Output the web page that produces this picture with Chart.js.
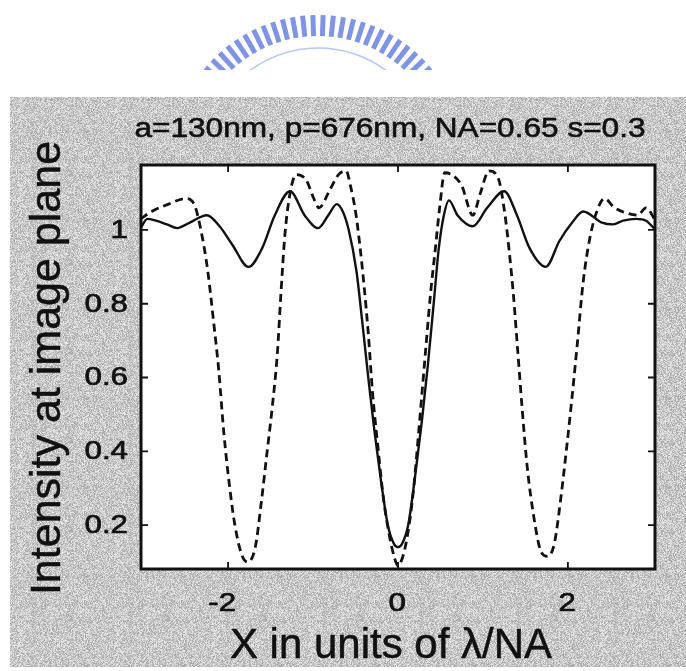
<!DOCTYPE html>
<html>
<head>
<meta charset="utf-8">
<script src="https://cdn.jsdelivr.net/npm/chart.js@4.4.1/dist/chart.umd.min.js"></script>
<style>
  html, body { margin: 0; padding: 0; background: #fff; }
</style>
</head>
<body>
<canvas id="chart" width="686" height="671"></canvas>
<script>
// Text of the figure
const TITLE = 'a=130nm, p=676nm, NA=0.65 s=0.3';
const X_LABEL = 'X in units of \u03bb/NA';
const Y_LABEL = 'Intensity at image plane';

// Tick labels
const X_TICKS = [-2, 0, 2];
const Y_TICKS = [0.2, 0.4, 0.6, 0.8, 1];

// Solid curve
const solidX = [-3.03, -2.95, -2.85, -2.72, -2.6, -2.45, -2.25, -2.1, -1.95, -1.76,
    -1.6, -1.45, -1.27, -1.1, -0.94, -0.82, -0.72, -0.65, -0.58, -0.49,
    -0.42, -0.35, -0.28, -0.2, -0.12, -0.05, 0, 0.05, 0.12, 0.2,
    0.28, 0.35, 0.42, 0.48, 0.54, 0.6, 0.7, 0.88, 1.05, 1.25,
    1.4, 1.55, 1.74, 1.9, 2.05, 2.18, 2.4, 2.53, 2.65, 2.8, 2.92, 3.03];
const solidY = [1.005, 1.03, 1.025, 1.015, 1.005, 1.02, 1.04, 1.01, 0.96, 0.90,
    0.95, 1.04, 1.105, 1.04, 1.005, 1.04, 1.07, 1.05, 1.0, 0.89,
    0.75, 0.60, 0.46, 0.32, 0.2, 0.15, 0.14, 0.15, 0.2, 0.33,
    0.48, 0.63, 0.80, 0.95, 1.04, 1.08, 1.04, 1.01, 1.06, 1.105,
    1.04, 0.95, 0.90, 0.97, 1.02, 1.05, 1.02, 1.015, 1.025, 1.03, 1.025, 1.0];

// Dashed curve
const dashedX = [-3.03, -2.9, -2.7, -2.5, -2.4, -2.32, -2.24, -2.17, -2.11, -2.05,
    -1.98, -1.92, -1.84, -1.77, -1.68, -1.61, -1.54, -1.48, -1.42, -1.38,
    -1.33, -1.27, -1.2, -1.08, -1.0, -0.93, -0.8, -0.7, -0.61, -0.56,
    -0.5, -0.45, -0.4, -0.35, -0.3, -0.24, -0.17, -0.1, -0.04, 0,
    0.05, 0.11, 0.18, 0.25, 0.32, 0.38, 0.44, 0.49, 0.55, 0.63,
    0.75, 0.88, 0.97, 1.07, 1.18, 1.26, 1.31, 1.36, 1.41, 1.46,
    1.52, 1.6, 1.68, 1.76, 1.84, 1.92, 1.99, 2.05, 2.11, 2.18,
    2.26, 2.34, 2.43, 2.55, 2.7, 2.82, 2.92, 3.03];
const dashedY = [1.03, 1.05, 1.07, 1.085, 1.07, 1.0, 0.89, 0.75, 0.62, 0.45,
    0.3, 0.2, 0.12, 0.10, 0.14, 0.26, 0.40, 0.52, 0.665, 0.82,
    0.99, 1.10, 1.15, 1.135, 1.09, 1.06, 1.11, 1.15, 1.16, 1.12,
    1.05, 0.96, 0.85, 0.72, 0.56, 0.42, 0.27, 0.17, 0.11, 0.09,
    0.11, 0.17, 0.29, 0.47, 0.66, 0.82, 0.95, 1.06, 1.155, 1.15,
    1.12, 1.04, 1.10, 1.16, 1.14, 1.04, 0.94, 0.82, 0.67, 0.52,
    0.36, 0.22, 0.13, 0.115, 0.15, 0.28, 0.42, 0.55, 0.69, 0.86,
    0.98, 1.05, 1.085, 1.06, 1.045, 1.04, 1.06, 1.025];

const FONT = '"Liberation Sans", Arial, Helvetica, sans-serif';
const INK = '#111';

// Draw text stretched sideways (the scanned labels are wide and heavy)
function wideText(ctx, text, x, y, size, sx, align, baseline, weight) {
    ctx.save();
    ctx.font = size + 'px ' + FONT;
    ctx.textAlign = align;
    ctx.textBaseline = baseline;
    ctx.translate(x, y);
    ctx.scale(sx, 1);
    ctx.fillText(text, 0, 0);
    if (weight) {
        ctx.lineWidth = weight;
        ctx.lineJoin = 'round';
        ctx.strokeText(text, 0, 0);
    }
    ctx.restore();
}

// Grainy grey of the scanned page (fixed hash, no randomness)
function grainPattern(ctx) {
    const c = document.createElement('canvas');
    c.width = 97; c.height = 89;
    const g = c.getContext('2d');
    const img = g.createImageData(c.width, c.height);
    for (let i = 0; i < c.width * c.height; i++) {
        let h = Math.sin(i * 12.9898 + 78.233) * 43758.5453;
        h = h - Math.floor(h);
        const v = Math.round(200 + (h - 0.5) * 70);
        img.data[i * 4] = v;
        img.data[i * 4 + 1] = v;
        img.data[i * 4 + 2] = v;
        img.data[i * 4 + 3] = 255;
    }
    g.putImageData(img, 0, 0);
    return ctx.createPattern(c, 'repeat');
}

// The faint blue watermark arc at the top of the page
function drawLogo(ctx) {
    ctx.save();
    ctx.beginPath();
    ctx.rect(0, 0, 686, 70);
    ctx.clip();
    const cx = 318, cy = 162;
    ctx.strokeStyle = 'rgb(128,148,228)';
    ctx.lineWidth = 5;
    for (let deg = -54; deg <= 54.01; deg += 4) {
        const r = deg * Math.PI / 180;
        const s = Math.sin(r), c = Math.cos(r);
        ctx.beginPath();
        ctx.moveTo(cx + s * 126, cy - c * 126);
        ctx.lineTo(cx + s * 147, cy - c * 147);
        ctx.stroke();
    }
    ctx.strokeStyle = 'rgba(140,160,230,0.6)';
    ctx.lineWidth = 1.5;
    ctx.beginPath();
    ctx.arc(cx, cy, 114, Math.PI * 1.1, Math.PI * 1.9);
    ctx.stroke();
    ctx.restore();
}

const decor = {
    id: 'decor',
    beforeDraw(chart) {
        const ctx = chart.ctx;
        const a = chart.chartArea;
        ctx.save();
        ctx.fillStyle = '#fff';
        ctx.fillRect(0, 0, chart.width, chart.height);
        drawLogo(ctx);
        ctx.fillStyle = grainPattern(ctx);
        ctx.fillRect(10, 97, 676, 570);
        ctx.fillStyle = '#fff';
        ctx.fillRect(a.left, a.top, a.right - a.left, a.bottom - a.top);
        ctx.restore();
    },
    afterDraw(chart) {
        const ctx = chart.ctx;
        const a = chart.chartArea;
        const xs = chart.scales.x, ys = chart.scales.y;
        ctx.save();
        ctx.strokeStyle = INK;
        ctx.fillStyle = INK;

        // ticks pointing inwards on all four sides
        X_TICKS.forEach(v => {
            const px = xs.getPixelForValue(v);
            ctx.lineWidth = 1.8;
            ctx.beginPath();
            ctx.moveTo(px, a.bottom); ctx.lineTo(px, a.bottom - 7);
            ctx.moveTo(px, a.top); ctx.lineTo(px, a.top + 7);
            ctx.stroke();
            wideText(ctx, String(v), px + 8, 604, 25, 1.25, 'right', 'middle', 0.7);
        });
        Y_TICKS.forEach(v => {
            const py = ys.getPixelForValue(v);
            ctx.lineWidth = 1.8;
            ctx.beginPath();
            ctx.moveTo(a.left, py); ctx.lineTo(a.left + 7, py);
            ctx.moveTo(a.right, py); ctx.lineTo(a.right - 7, py);
            ctx.stroke();
            wideText(ctx, String(v), 128, py + 1, 25, 1.25, 'right', 'middle', 0.7);
        });

        // box
        ctx.lineWidth = 3;
        ctx.strokeRect(a.left, a.top, a.right - a.left, a.bottom - a.top);

        // title and axis titles
        wideText(ctx, TITLE, 390, 137, 27, 1.17, 'center', 'alphabetic', 0.6);
        wideText(ctx, X_LABEL, 391, 658, 42, 1.0, 'center', 'alphabetic', 0.5);
        ctx.save();
        ctx.translate(60, 368);
        ctx.rotate(-Math.PI / 2);
        wideText(ctx, Y_LABEL, 0, 0, 43, 1.0, 'center', 'alphabetic', 0.5);
        ctx.restore();
        ctx.restore();
    }
};

const ctx = document.getElementById('chart').getContext('2d');
new Chart(ctx, {
    type: 'line',
    data: {
        datasets: [
            {
                label: 'solid',
                data: solidX.map((x, i) => ({ x: x, y: solidY[i] })),
                borderColor: INK,
                borderWidth: 2.4,
                pointRadius: 0,
                cubicInterpolationMode: 'monotone'
            },
            {
                label: 'dashed',
                data: dashedX.map((x, i) => ({ x: x, y: dashedY[i] })),
                borderColor: INK,
                borderWidth: 2.8,
                borderDash: [8, 5],
                pointRadius: 0,
                cubicInterpolationMode: 'monotone'
            }
        ]
    },
    options: {
        responsive: false,
        animation: false,
        layout: { padding: { left: 141, right: 31, top: 165, bottom: 102 } },
        plugins: {
            legend: { display: false },
            tooltip: { enabled: false }
        },
        scales: {
            x: { type: 'linear', display: false, min: -3.025, max: 3.025 },
            y: { type: 'linear', display: false, min: 0.081, max: 1.176 }
        }
    },
    plugins: [decor]
});
</script>
</body>
</html>
